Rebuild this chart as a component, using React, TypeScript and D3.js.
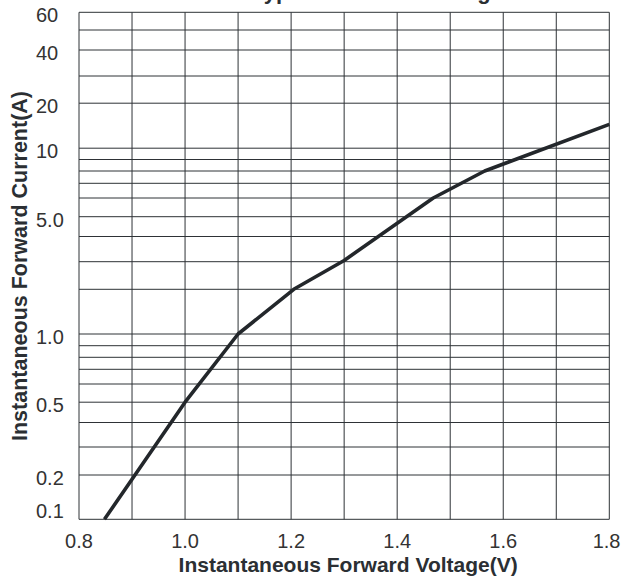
import React from "react";
import * as d3 from "d3";

// ---- data ----
const voltage = [0.848, 1.0, 1.1, 1.205, 1.3, 1.468, 1.565, 1.8];
const current = [0.1, 0.5, 1.0, 2.0, 3.05, 6.0, 8.0, 15.3];

const xTickValues = [0.8, 1.0, 1.2, 1.4, 1.6, 1.8];
const xGridValues = [0.8, 0.9, 1.0, 1.1, 1.2, 1.3, 1.4, 1.5, 1.6, 1.7, 1.8];
const yGridValues = [0.1, 0.2, 0.3, 0.4, 0.5, 0.6, 0.7, 0.8, 0.9, 1, 2, 3, 4, 5, 6, 7, 8, 9, 10, 20, 30, 40, 50, 60];
const yTickValues = [0.1, 0.2, 0.5, 1, 5, 10, 20, 40, 60];
const yTickLabels = ["0.1", "0.2", "0.5", "1.0", "5.0", "10", "20", "40", "60"];

const title = "Typical Forward Voltage";
const xTitle = "Instantaneous Forward Voltage(V)";
const yTitle = "Instantaneous Forward Current(A)";

// ---- layout (the chart's hand-drawn, non-uniform current axis) ----
const W = 622;
const H = 576;
const left = 79;
const right = 609.3;
const yAxisPositions = [519.3, 475, 447, 422.5, 402.2, 384, 369.3, 357.3, 345.7, 334, 289.3, 261.7, 236.5, 216.7, 198, 183.3, 171, 159.5, 148.2, 103.2, 76, 50, 30, 12.3];

export default function App() {
  const x = d3.scaleLinear().domain([0.8, 1.8]).range([left, right]);
  const y = d3.scaleLinear().domain(yGridValues).range(yAxisPositions);
  const top = y(60);
  const bottom = y(0.1);
  const pts = voltage.map((v, i) => [v, current[i]] as [number, number]);
  const line = d3
    .line<[number, number]>()
    .x((d) => x(d[0]))
    .y((d) => y(d[1]));
  const font = "'Liberation Sans', Arial, Helvetica, sans-serif";
  const gridColor = "#2e3236";
  return (
    <svg
      width={W}
      height={H}
      style={{ position: "absolute", left: 0, top: 0, background: "#fff" }}
      fontFamily={font}
    >
      <rect x={0} y={0} width={W} height={H} fill="#fff" />
      {yGridValues.map((v) => (
        <line key={"h" + v} x1={left} x2={right} y1={y(v)} y2={y(v)} stroke={gridColor} strokeWidth={1} />
      ))}
      {xGridValues.map((v) => (
        <line key={"v" + v} x1={x(v)} x2={x(v)} y1={top} y2={bottom} stroke={gridColor} strokeWidth={1} />
      ))}
      <path d={line(pts) || ""} fill="none" stroke="#23272b" strokeWidth={3.6} strokeLinejoin="round" />
      {yTickValues.map((v, i) => (
        <text
          key={"yt" + v}
          x={36}
          y={i === 0 ? y(v) - 1 : y(v) + 10}
          textAnchor="start"
          fontSize={20}
          fill="#333"
        >
          {yTickLabels[i]}
        </text>
      ))}
      {xTickValues.map((v, i) => {
        const last = i === xTickValues.length - 1;
        return (
          <text
            key={"xt" + v}
            x={last ? W - 1.5 : x(v)}
            y={548}
            textAnchor={last ? "end" : "middle"}
            fontSize={20}
            fill="#333"
          >
            {v.toFixed(1)}
          </text>
        );
      })}
      <text x={(left + right) / 2 + 4} y={572} textAnchor="middle" fontSize={21} fontWeight="bold" fill="#2b2f33">
        {xTitle}
      </text>
      <text
        transform={`translate(26.5, 266) rotate(-90)`}
        textAnchor="middle"
        fontSize={21.5}
        fontWeight="bold"
        fill="#2b2f33"
      >
        {yTitle}
      </text>
      <text x={252} y={-1.5} textAnchor="start" fontSize={22} fontWeight="bold" fill="#2b2f33">
        {title}
      </text>
    </svg>
  );
}
